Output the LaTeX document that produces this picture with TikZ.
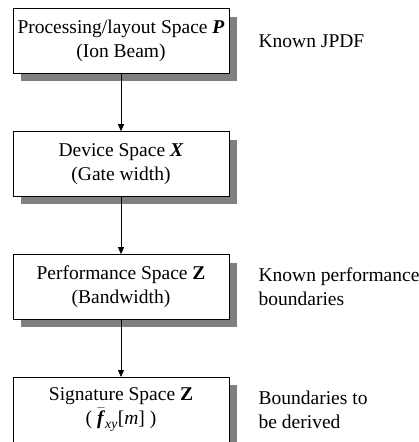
\documentclass[tikz,border=0pt]{standalone}
\usepackage{amsmath}
\usepackage{fontspec}
\setmainfont{Liberation Serif}
\usetikzlibrary{arrows.meta,positioning,shadows}

\begin{document}
\begin{tikzpicture}[
  font=\fontsize{19.5}{23.5}\selectfont,
  space/.style={draw, line width=0.9pt, fill=white, align=center, minimum width=216pt, minimum height=64.5pt, inner sep=0pt,
    drop shadow={shadow xshift=8pt, shadow yshift=-8pt, fill=black!50, opacity=1}},
  note/.style={anchor=west, align=left, inner sep=0pt},
  arrow/.style={-{Triangle[length=7pt, width=6pt]}, line width=0.8pt},
  node distance=57.5pt and 29pt
]
\useasboundingbox (0,0) rectangle (419pt,-442pt);
\node[space] (process) at (121pt,-41pt) {Processing/layout Space \textbf{\textit{P}}\\(Ion Beam)};
\node[space, below=of process] (device) {Device Space \textbf{\textit{X}}\\(Gate width)};
\node[space, below=of device] (perform) {Performance Space \textbf{Z}\\(Bandwidth)};
\node[space, below=of perform] (signature) {Signature Space \textbf{Z}\\( $\bar{\text{\textbf{\textit{f}}}}_{\text{\textit{xy}}}$[\textit{m}] )};

\node[note, right=of process] (jpdf) {Known JPDF};
\node[note, right=of perform] (bounds) {Known performance\\boundaries};
\node[note, right=of signature] (derive) {Boundaries to\\be derived};

\draw[arrow] (process) -- (device);
\draw[arrow] (device) -- (perform);
\draw[arrow] (perform) -- (signature);
\end{tikzpicture}
\end{document}
